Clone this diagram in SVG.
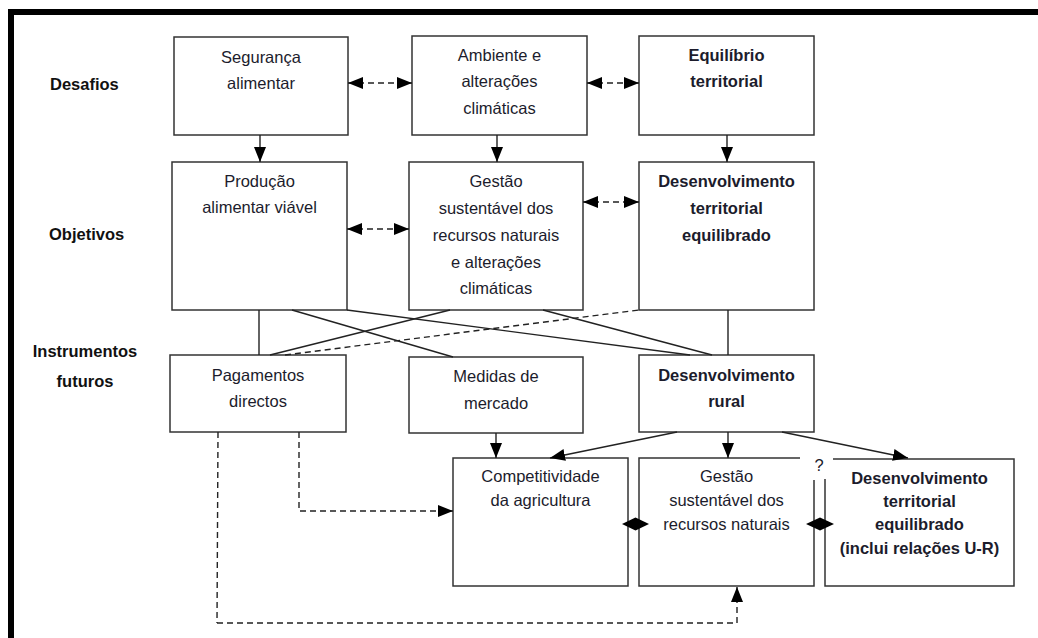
<svg xmlns="http://www.w3.org/2000/svg" width="1038" height="638" viewBox="0 0 1038 638">
<style>
.box{fill:#fff;stroke:#333;stroke-width:1.5}
.edge{fill:none;stroke:#333;stroke-width:1.5}
.t{font-family:"Liberation Sans",Arial,sans-serif;font-size:16.5px;fill:#1c1c2c;text-anchor:middle}
.b{font-weight:bold}
.lbl{font-family:"Liberation Sans",Arial,sans-serif;font-size:16.5px;font-weight:bold;fill:#111}
.c{fill:none;stroke:#222;stroke-width:1.4}
.d{stroke-dasharray:6 4}
</style>
<defs>
<marker id="ah" viewBox="0 0 15 12" refX="15" refY="6" markerWidth="15" markerHeight="12" markerUnits="userSpaceOnUse" orient="auto-start-reverse">
<path d="M0,0 L15,6 L0,12 z" fill="#000"/>
</marker>
</defs>
<rect x="0" y="0" width="1038" height="638" fill="#fff"/>
<path d="M11,638 V12 H1038" fill="none" stroke="#000" stroke-width="6"/>

<g id="labels">
<text class="lbl" x="50" y="90">Desafios</text>
<text class="lbl" x="49" y="240">Objetivos</text>
<text class="lbl" x="85" y="357" text-anchor="middle">Instrumentos</text>
<text class="lbl" x="85" y="387" text-anchor="middle">futuros</text>
</g>

<g id="n-seguranca">
<rect class="box" x="174" y="37" width="174" height="98"/>
<text class="t" x="261" y="63">Segurança</text>
<text class="t" x="261" y="89">alimentar</text>
</g>
<g id="n-ambiente">
<rect class="box" x="412" y="36" width="175" height="99"/>
<text class="t" x="499.5" y="61">Ambiente e</text>
<text class="t" x="499.5" y="87">alterações</text>
<text class="t" x="499.5" y="114">climáticas</text>
</g>
<g id="n-equilibrio">
<rect class="box" x="639" y="36" width="175" height="99"/>
<text class="t b" x="726.5" y="61">Equilíbrio</text>
<text class="t b" x="726.5" y="87">territorial</text>
</g>

<g id="n-producao">
<rect class="box" x="172" y="162" width="175" height="148"/>
<text class="t" x="259.5" y="187">Produção</text>
<text class="t" x="259.5" y="213">alimentar viável</text>
</g>
<g id="n-gestao-obj">
<rect class="box" x="409" y="162" width="174" height="148"/>
<text class="t" x="496" y="187">Gestão</text>
<text class="t" x="496" y="214">sustentável dos</text>
<text class="t" x="496" y="241">recursos naturais</text>
<text class="t" x="496" y="268">e alterações</text>
<text class="t" x="496" y="294">climáticas</text>
</g>
<g id="n-desenv-obj">
<rect class="box" x="639" y="162" width="175" height="148"/>
<text class="t b" x="726.5" y="187">Desenvolvimento</text>
<text class="t b" x="726.5" y="214">territorial</text>
<text class="t b" x="726.5" y="241">equilibrado</text>
</g>

<g id="n-pagamentos">
<rect class="box" x="170" y="355" width="176" height="77"/>
<text class="t" x="258" y="381">Pagamentos</text>
<text class="t" x="258" y="407">directos</text>
</g>
<g id="n-medidas">
<rect class="box" x="409" y="357" width="174" height="76"/>
<text class="t" x="496" y="382">Medidas de</text>
<text class="t" x="496" y="409">mercado</text>
</g>
<g id="n-rural">
<rect class="box" x="639" y="355" width="175" height="77"/>
<text class="t b" x="726.5" y="381">Desenvolvimento</text>
<text class="t b" x="726.5" y="407">rural</text>
</g>

<g id="n-competitividade">
<rect class="box" x="453" y="458" width="175" height="128"/>
<text class="t" x="540.5" y="482">Competitividade</text>
<text class="t" x="540.5" y="506">da agricultura</text>
</g>
<g id="n-gestao-res">
<path class="edge" d="M800,458 H639 V586 H814 V480"/>
<text class="t" x="726.5" y="482">Gestão</text>
<text class="t" x="726.5" y="506">sustentável dos</text>
<text class="t" x="726.5" y="530">recursos naturais</text>
</g>
<g id="n-territorial-res">
<path class="edge" d="M825,479 V586 H1014 V459 H833"/>
<text class="t b" x="919.5" y="484">Desenvolvimento</text>
<text class="t b" x="919.5" y="507">territorial</text>
<text class="t b" x="919.5" y="530">equilibrado</text>
<text class="t b" x="919.5" y="554">(inclui relações U-R)</text>
</g>

<g id="connectors">
<line class="c d" x1="348" y1="83" x2="412" y2="83" marker-start="url(#ah)" marker-end="url(#ah)"/>
<line class="c d" x1="587" y1="83" x2="639" y2="83" marker-start="url(#ah)" marker-end="url(#ah)"/>
<line class="c d" x1="347" y1="229" x2="409" y2="229" marker-start="url(#ah)" marker-end="url(#ah)"/>
<line class="c d" x1="583" y1="202" x2="639" y2="202" marker-start="url(#ah)" marker-end="url(#ah)"/>
<line class="c" x1="260" y1="135" x2="260" y2="162" marker-end="url(#ah)"/>
<line class="c" x1="497" y1="135" x2="497" y2="162" marker-end="url(#ah)"/>
<line class="c" x1="727" y1="135" x2="727" y2="162" marker-end="url(#ah)"/>
<line class="c" x1="259" y1="310" x2="259" y2="355"/>
<line class="c" x1="292" y1="310" x2="453" y2="357"/>
<line class="c" x1="347" y1="310" x2="690" y2="355"/>
<line class="c" x1="270" y1="355" x2="450" y2="310"/>
<line class="c d" x1="285" y1="355" x2="639" y2="310"/>
<line class="c" x1="543" y1="310" x2="712" y2="355"/>
<line class="c" x1="728" y1="310" x2="728" y2="355"/>
<line class="c" x1="496" y1="433" x2="496" y2="458" marker-end="url(#ah)"/>
<line class="c" x1="677" y1="432" x2="550" y2="458" marker-end="url(#ah)"/>
<line class="c" x1="728" y1="432" x2="728" y2="458" marker-end="url(#ah)"/>
<line class="c" x1="782" y1="432" x2="908" y2="458" marker-end="url(#ah)"/>
<polyline class="c d" points="299,432 299,511 453,511" marker-end="url(#ah)"/>
<line class="c d" x1="218" y1="432" x2="217" y2="623" stroke="#888"/>
<polyline class="c d" points="217,623 737,623 737,587" marker-end="url(#ah)"/>
<polygon points="622,524 635.5,517.5 649,524 635.5,530.5" fill="#000"/>
<polygon points="806,524 820,517.5 834,524 820,530.5" fill="#000"/>
<text class="t" x="819" y="471" font-size="17">?</text>
</g>
</svg>
